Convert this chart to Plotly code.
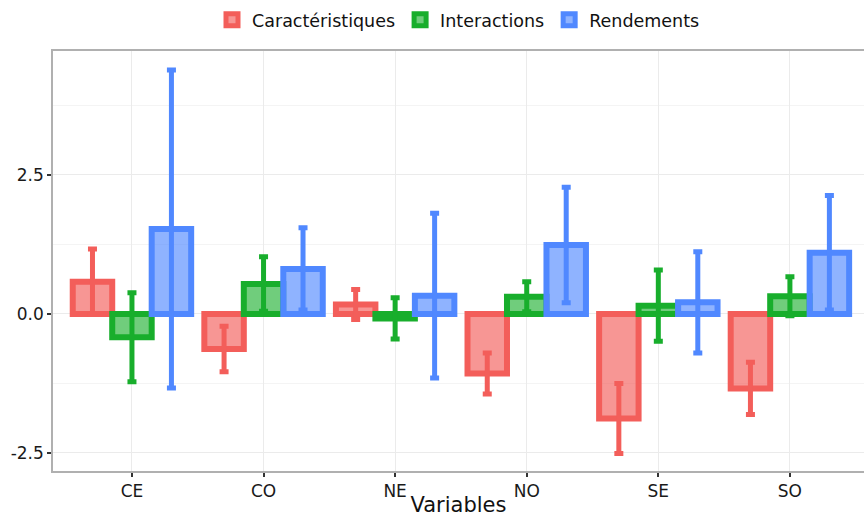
import plotly.graph_objects as go

# Regions on the x axis
regions = ["CE", "CO", "NE", "NO", "SE", "SO"]

# Mean effect and half-width of the error bar for each component
carac = [0.58, -0.63, 0.17, -1.07, -1.88, -1.34]
carac_err = [0.59, 0.41, 0.27, 0.37, 0.63, 0.47]

inter = [-0.42, 0.54, -0.08, 0.31, 0.15, 0.32]
inter_err = [0.80, 0.49, 0.37, 0.27, 0.64, 0.35]

rend = [1.53, 0.81, 0.33, 1.24, 0.21, 1.10]
rend_err = [2.86, 0.74, 1.48, 1.04, 0.91, 1.03]

y_ticks = [-2.5, 0.0, 2.5]
y_tick_text = ["-2.5", "0.0", "2.5"]

series = [
    ("Caractéristiques", carac, carac_err, "rgb(243,94,90)", "rgba(243,94,90,0.65)"),
    ("Interactions", inter, inter_err, "rgb(24,174,44)", "rgba(24,174,44,0.62)"),
    ("Rendements", rend, rend_err, "rgb(80,136,255)", "rgba(80,136,255,0.64)"),
]

fig = go.Figure()
for name, vals, errs, line_col, fill_col in series:
    fig.add_trace(go.Bar(
        name=name,
        x=regions,
        y=vals,
        marker=dict(color=fill_col, line=dict(color=line_col, width=6)),
        error_y=dict(type="data", array=errs, symmetric=True,
                     color=line_col, thickness=5, width=4.5),
    ))

font_family = "DejaVu Sans"

fig.update_layout(
    width=864,
    height=517,
    margin=dict(l=53, r=0, t=51, b=46),
    paper_bgcolor="white",
    plot_bgcolor="white",
    barmode="group",
    bargap=0.1,
    bargroupgap=0.0,
    font=dict(family=font_family, color="#222222"),
    legend=dict(
        orientation="h",
        x=0.5, xanchor="center",
        y=1.074, yanchor="middle",
        font=dict(size=17.5, color="#111111"),
        itemwidth=30,
        traceorder="normal",
    ),
    xaxis=dict(
        type="category",
        range=[-0.6, 5.563],
        automargin=False,
        showgrid=True,
        gridcolor="#ebebeb",
        gridwidth=1.2,
        showline=True,
        linecolor="#b0b0b0",
        linewidth=1.5,
        mirror=True,
        ticks="outside",
        ticklen=4,
        tickwidth=1.5,
        tickcolor="#333333",
        tickfont=dict(size=17, color="#1a1a1a"),
        title=dict(text="Variables", font=dict(size=21, color="#111111")),
        zeroline=False,
    ),
    yaxis=dict(
        range=[-2.824, 4.73],
        automargin=False,
        tickvals=y_ticks,
        ticktext=y_tick_text,
        showgrid=True,
        gridcolor="#ebebeb",
        gridwidth=1.2,
        minor=dict(dtick=1.25, tick0=0, showgrid=True, gridcolor="#f4f4f4", gridwidth=1.2),
        showline=True,
        linecolor="#b0b0b0",
        linewidth=1.5,
        ticks="outside",
        ticklen=4,
        tickwidth=1.5,
        tickcolor="#333333",
        tickfont=dict(size=17, color="#1a1a1a"),
        zeroline=False,
    ),
)

fig.write_html("out.html")
